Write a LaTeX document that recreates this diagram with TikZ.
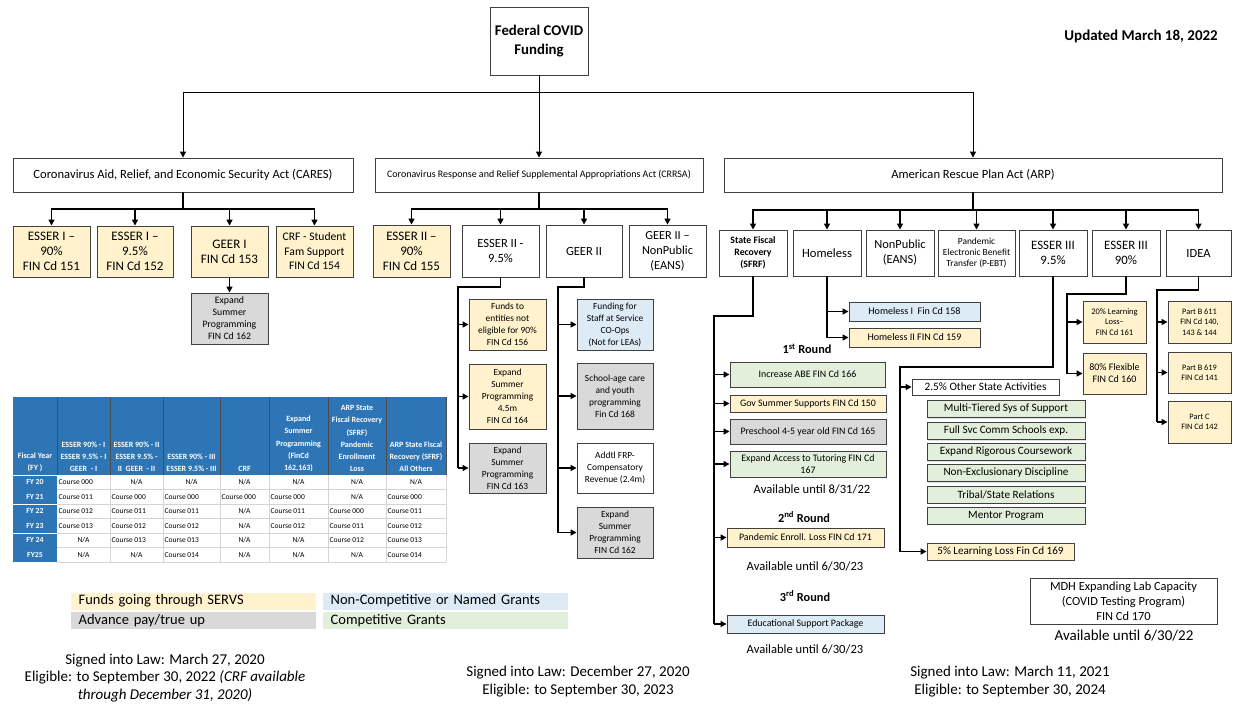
\documentclass[tikz,border=0pt]{standalone}
\usepackage{fontspec}
\setmainfont{Carlito}
\usetikzlibrary{arrows.meta,shadows}
\definecolor{edge}{HTML}{404040}
\definecolor{fy}{HTML}{FFF2CC}
\definecolor{fg}{HTML}{D9D9D9}
\definecolor{fb}{HTML}{DDEBF7}
\definecolor{fgr}{HTML}{E2EFDA}
\definecolor{tblue}{HTML}{2E75B6}
\definecolor{tgrid}{HTML}{D4D4D4}
\def\nastr{N/A}
\tikzset{
    bx/.style={draw=edge,line width=0.9pt,fill=white,align=center,inner sep=1pt,
        drop shadow={shadow xshift=1.2pt,shadow yshift=-1.2pt,opacity=0.25}},
    sz/.style 2 args={minimum width=#1pt,minimum height=#2pt},
    fs/.style 2 args={font=\fontsize{#1}{#2}\selectfont},
    fsb/.style 2 args={font=\fontsize{#1}{#2}\selectfont\bfseries},
    trunk/.style={line width=1pt,-{Triangle[length=6pt,width=6pt]}},
    br/.style={line width=1.4pt,-{Triangle[length=6pt,width=6pt]}},
    spine/.style={line width=1.7pt},
    tip/.style={line width=1.7pt,-{Triangle[length=6pt,width=6pt]}},
    lbl/.style={inner sep=0pt,align=center},
    band/.style={inner sep=0pt,anchor=west,minimum height=17pt,minimum width=245pt,
        text width=240pt,align=left,fs={14.5}{16}},
    thd/.style={inner sep=0pt,anchor=south,align=center,text=white,fsb={8}{12.2}},
    tcell/.style={inner sep=0pt,fs={7.5}{9}}
}

\begin{document}
\begin{tikzpicture}[x=1pt,y=-1pt]
    \useasboundingbox (0,0) rectangle (1233,704);
    %\draw[step=50pt,color=gray] (0,0) grid (1233,704);

    % top
    \node[bx,sz={98}{68},fsb={14.8}{19}] (fed) at (539,41) {Federal COVID\\Funding};
    \node[lbl,anchor=east,fsb={15}{16}] (upd) at (1218,36) {Updated March 18, 2022};

    \node[bx,sz={340}{34},fs={12.6}{14}] (cares) at (183,175) {Coronavirus Aid, Relief, and Economic Security Act (CARES)};
    \node[bx,sz={328}{34},fs={10}{12}] (crrsa) at (539,175) {Coronavirus Response and Relief Supplemental Appropriations Act (CRRSA)};
    \node[bx,sz={498}{34},fs={12.6}{14}] (arp) at (973,175) {American Rescue Plan Act (ARP)};

    \draw[trunk] (fed.south) -- ++(0,17) -| (cares.north);
    \draw[trunk] (fed.south) -- (crrsa.north);
    \draw[trunk] (fed.south) -- ++(0,17) -| (arp.north);

    % CARES
    \node[bx,fill=fy,sz={77}{51},fs={13}{15}] (e1a) at (51.5,251.5) {ESSER I --\\90\%\\FIN Cd 151};
    \node[bx,fill=fy,sz={76}{51},fs={13}{15}] (e1b) at (135,251.5) {ESSER I --\\9.5\%\\FIN Cd 152};
    \node[bx,fill=fy,sz={77}{51},fs={13}{15}] (g1) at (229.5,251.5) {GEER I\\FIN Cd 153};
    \node[bx,fill=fy,sz={77}{51},fs={11.6}{14.5}] (crf) at (314.5,251.5) {CRF - Student\\Fam Support\\FIN Cd 154};
    \node[bx,fill=fg,sz={77}{51},fs={9.8}{12}] (es162a) at (229.5,318.5) {Expand\\Summer\\Programming\\FIN Cd 162};
    \coordinate (jc) at (183,209);
    \foreach \n in {e1a,e1b,g1,crf}
        \draw[br] (cares.south) -- (jc) -| (\n.north);
    \draw[br] (g1.south) -- (es162a.north);

    % CRRSA
    \node[bx,fill=fy,sz={77}{52},fs={13}{15}] (e2a) at (411.5,251) {ESSER II --\\90\%\\FIN Cd 155};
    \node[bx,sz={77}{52},fs={12.5}{15}] (e2b) at (500.5,251) {ESSER II -\\9.5\%};
    \node[bx,sz={76}{52},fs={12.5}{15}] (g2) at (584,251) {GEER II};
    \node[bx,sz={77}{52},fs={12.3}{15}] (g2n) at (667.5,251) {GEER II --\\NonPublic\\(EANS)};
    \coordinate (jr) at (539,209);
    \foreach \n in {e2a,e2b,g2,g2n}
        \draw[br] (crrsa.south) -- (jr) -| (\n.north);

    \node[bx,fill=fy,sz={77}{51},fs={9.4}{12}] (f156) at (507.5,324.5) {Funds to\\entities not\\eligible for 90\%\\FIN Cd 156};
    \node[bx,fill=fy,sz={77}{65},fs={9.4}{12}] (e164) at (507.5,396.5) {Expand\\Summer\\Programming\\4.5m\\FIN Cd 164};
    \node[bx,fill=fg,sz={77}{50},fs={9.4}{12}] (e163) at (507.5,468) {Expand\\Summer\\Programming\\FIN Cd 163};
    \coordinate (sa) at (458,287);
    \draw[spine] (e2b.south) |- (sa) -- (sa |- e163.west);
    \foreach \n in {f156,e164,e163}
        \draw[tip] (sa |- \n.west) -- (\n.west);

    \node[bx,fill=fb,sz={76}{51},fs={9.4}{12}] (staff) at (615,324.5) {Funding for\\Staff at Service\\CO-Ops\\(Not for LEAs)};
    \node[bx,fill=fg,sz={76}{66},fs={9.4}{12}] (sch168) at (615,396) {School-age care\\and youth\\programming\\Fin Cd 168};
    \node[bx,sz={76}{50},fs={9.4}{12}] (frp) at (615,468) {Addtl FRP-\\Compensatory\\Revenue (2.4m)};
    \node[bx,fill=fg,sz={76}{51},fs={9.4}{12}] (es162b) at (615,532.5) {Expand\\Summer\\Programming\\FIN Cd 162};
    \coordinate (sb) at (558,287);
    \draw[spine] (g2.south) |- (sb) -- (sb |- es162b.west);
    \foreach \n in {staff,sch168,frp,es162b}
        \draw[tip] (sb |- \n.west) -- (\n.west);

    % ARP
    \node[bx,sz={68}{46},fsb={9.8}{12}] (sfrf) at (753,253) {State Fiscal\\Recovery\\(SFRF)};
    \node[bx,sz={68}{46},fs={12.6}{15}] (hml) at (827,253) {Homeless};
    \node[bx,sz={68}{46},fs={12.4}{15}] (nonp) at (900,253) {NonPublic\\(EANS)};
    \node[bx,sz={77}{46},fs={9.4}{11}] (pebt) at (976.5,253) {Pandemic\\Electronic Benefit\\Transfer (P-EBT)};
    \node[bx,sz={68}{46},fs={12.8}{15}] (e3a) at (1053,253) {ESSER III\\9.5\%};
    \node[bx,sz={68}{46},fs={12.8}{15}] (e3b) at (1126,253) {ESSER III\\90\%};
    \node[bx,sz={65}{46},fs={12.5}{15}] (idea) at (1198.5,253) {IDEA};
    \coordinate (ja) at (973,210);
    \foreach \n in {sfrf,hml,nonp,pebt,e3a,e3b,idea}
        \draw[br] (arp.south) -- (ja) -| (\n.north);

    \node[bx,fill=fb,sz={131}{19},fs={10.1}{11}] (h158) at (914.5,311.5) {Homeless I~~Fin Cd 158};
    \node[bx,fill=fy,sz={131}{19},fs={10.1}{11}] (h159) at (914.5,337.5) {Homeless II FIN Cd 159};
    \draw[br,-] (hml.south) -- (hml.south |- h159.west);
    \foreach \n in {h158,h159}
        \draw[br] (hml.south |- \n.west) -- (\n.west);

    \node[lbl,fsb={12.3}{14}] (r1) at (807,349) {1\textsuperscript{st} Round};
    \node[bx,fill=fgr,sz={155}{25},fs={9.9}{11}] (abe) at (807.5,374.5) {Increase ABE FIN Cd 166};
    \node[bx,fill=fy,sz={156}{17},fs={9.9}{11}] (gov) at (808,403.5) {Gov Summer Supports FIN Cd 150};
    \node[bx,fill=fg,sz={156}{25},fs={9.9}{11}] (pre) at (808,431.5) {Preschool 4-5 year old FIN Cd 165};
    \node[bx,fill=fgr,sz={156}{26},fs={9.9}{12}] (tut) at (808,464) {Expand Access to Tutoring FIN Cd\\167};
    \node[lbl,fs={12.6}{14}] (av1) at (812,489) {Available until 8/31/22};
    \node[lbl,fsb={12.3}{14}] (r2) at (804,517) {2\textsuperscript{nd} Round};
    \node[bx,fill=fy,sz={157}{19},fs={9.9}{11}] (pel) at (805.5,537.5) {Pandemic Enroll. Loss FIN Cd 171};
    \node[lbl,fs={12.6}{14}] (av2) at (805,566) {Available until 6/30/23};
    \node[lbl,fsb={12.3}{14}] (r3) at (805,596) {3\textsuperscript{rd} Round};
    \node[bx,fill=fb,sz={157}{18},fs={9.9}{11}] (esp) at (805.5,624) {Educational Support Package};
    \node[lbl,fs={12.6}{14}] (av3) at (805,649) {Available until 6/30/23};
    \coordinate (sc) at (714,316);
    \draw[spine] (sfrf.south) |- (sc) -- (sc |- esp.west);
    \foreach \n in {abe,gov,pre,tut,pel,esp}
        \draw[tip] (sc |- \n.west) -- (\n.west);

    \node[bx,sz={147}{16},fs={11.3}{12}] (oth) at (985.5,387) {2.5\% Other State Activities};
    \node[bx,fill=fgr,sz={158}{17},fs={11.2}{12}] (mt) at (1006,409) {Multi-Tiered Sys of Support};
    \node[bx,fill=fgr,sz={158}{17},fs={11.2}{12}] (fsc) at (1006,431) {Full Svc Comm Schools exp.};
    \node[bx,fill=fgr,sz={158}{17},fs={11.2}{12}] (erc) at (1006,452) {Expand Rigorous Coursework};
    \node[bx,fill=fgr,sz={158}{17},fs={11.2}{12}] (ned) at (1006,473) {Non-Exclusionary Discipline};
    \node[bx,fill=fgr,sz={158}{17},fs={11.2}{12}] (tsr) at (1006,494.5) {Tribal/State Relations};
    \node[bx,fill=fgr,sz={158}{17},fs={11.2}{12}] (mnt) at (1006,515.5) {Mentor Program};
    \node[bx,fill=fy,sz={147}{17},fs={11.1}{12}] (l169) at (1000.5,551.5) {5\% Learning Loss Fin Cd 169};
    \coordinate (sd) at (900,367);
    \draw[spine] (e3a.south) |- (sd) -- (sd |- l169.west);
    \foreach \n in {oth,l169}
        \draw[tip] (sd |- \n.west) -- (\n.west);

    \node[bx,fill=fy,sz={63}{42},fs={8.5}{10.5}] (l161) at (1114.5,322) {20\% Learning\\Loss--\\FIN Cd 161};
    \node[bx,fill=fy,sz={63}{41},fs={10}{12}] (f160) at (1114.5,373.5) {80\% Flexible\\FIN Cd 160};
    \coordinate (se) at (1067,294);
    \draw[spine] (e3b.south) |- (se) -- (se |- f160.west);
    \foreach \n in {l161,f160}
        \draw[tip] (se |- \n.west) -- (\n.west);

    \node[bx,fill=fy,sz={63}{42},fs={8.3}{10.5}] (p611) at (1199.5,322) {Part B 611\\FIN Cd 140,\\143 \& 144};
    \node[bx,fill=fy,sz={63}{41},fs={8.3}{10.5}] (p619) at (1199.5,372.5) {Part B 619\\FIN Cd 141};
    \node[bx,fill=fy,sz={63}{42},fs={8.3}{10.5}] (pc) at (1199.5,422) {Part C\\FIN Cd 142};
    \coordinate (sf) at (1157,290);
    \draw[spine] (idea.south) |- (sf) -- (sf |- pc.west);
    \foreach \n in {p611,p619,pc}
        \draw[tip] (sf |- \n.west) -- (\n.west);

    \node[bx,sz={187}{46},fs={12.4}{15}] (mdh) at (1123.5,601) {MDH Expanding Lab Capacity\\(COVID Testing Program)\\FIN Cd 170};
    \node[lbl,fs={15}{16}] (av4) at (1124,636) {Available until 6/30/22};

    % table
    \fill[tblue] (13,397) rectangle (446,475);
    \foreach \h [count=\c from 0] in {{Fiscal Year\\(FY )},{ESSER 90\% - I\\ESSER 9.5\% - I\\GEER~~- I},
        {ESSER 90\% - II\\ESSER 9.5\% -\\II~~GEER~~- II},{ESSER 90\% - III\\ESSER 9.5\% - III},{CRF},
        {Expand\\Summer\\Programming\\(FinCd\\162,163)},{ARP State\\Fiscal Recovery\\(SFRF)\\Pandemic\\Enrollment\\Loss},
        {ARP State Fiscal\\Recovery (SFRF)\\All Others}}{
        \pgfmathsetmacro\xl{{13,57,110,163,220,269,328,386,446}[\c]}
        \pgfmathsetmacro\xr{{13,57,110,163,220,269,328,386,446}[\c+1]}
        \node[thd] (th\c) at ({(\xl+\xr)/2},472) {\h};
        \draw[black!70,line width=0.8pt] (\xr,397) -- (\xr,475);
    }
    \foreach \fy/\vals [count=\r] in {FY 20/{Course 000,N/A,N/A,N/A,N/A,N/A,N/A},
        FY 21/{Course 011,Course 000,Course 000,Course 000,Course 000,N/A,Course 000},
        FY 22/{Course 012,Course 011,Course 011,N/A,Course 011,Course 000,Course 011},
        FY 23/{Course 013,Course 012,Course 012,N/A,Course 012,Course 011,Course 012},
        FY 24/{N/A,Course 013,Course 013,N/A,N/A,Course 012,Course 013},
        FY25/{N/A,N/A,Course 014,N/A,N/A,N/A,Course 014}}{
        \pgfmathsetmacro\yt{475+(\r-1)*14.5}
        \pgfmathsetmacro\yc{\yt+7.25}
        \fill[tblue] (13,\yt+0.6) rectangle (57,\yt+14.5);
        \node[tcell,text=white,fsb={7.8}{9}] (fy\r) at (35,\yc) {\fy};
        \draw[tgrid,line width=0.6pt] (57,\yt+14.5) -- (446,\yt+14.5);
        \foreach \v [count=\c] in \vals {
            \pgfmathsetmacro\xl{{13,57,110,163,220,269,328,386,446}[\c]}
            \pgfmathsetmacro\xr{{13,57,110,163,220,269,328,386,446}[\c+1]}
            \draw[tgrid,line width=0.6pt] (\xr,\yt) -- (\xr,\yt+14.5);
            \edef\tmp{\v}
            \ifx\tmp\nastr
                \node[tcell] (t\r-\c) at ({(\xl+\xr)/2},\yc) {\v};
            \else
                \node[tcell,anchor=west] (t\r-\c) at (\xl+1.5,\yc) {\v};
            \fi
        }
    }

    % legend
    \node[band,fill=fy] (lg1) at (71,601) {\hspace*{5pt}Funds going through SERVS};
    \node[band,fill=fg] (lg2) at (71,620.5) {\hspace*{5pt}Advance pay/true up};
    \node[band,fill=fb] (lg3) at (323,601) {\hspace*{5pt}Non-Competitive or Named Grants};
    \node[band,fill=fgr] (lg4) at (323,620.5) {\hspace*{5pt}Competitive Grants};

    % dates
    \node[lbl,fs={15}{17.5}] (sg1) at (165,678) {Signed into Law: March 27, 2020\\Eligible: to September 30, 2022 \textit{(CRF available}\\\textit{through December 31, 2020)}};
    \node[lbl,fs={15}{18}] (sg2) at (578,682) {Signed into Law: December 27, 2020\\Eligible: to September 30, 2023};
    \node[lbl,fs={15}{18}] (sg3) at (1010,682) {Signed into Law: March 11, 2021\\Eligible: to September 30, 2024};
\end{tikzpicture}
\end{document}
